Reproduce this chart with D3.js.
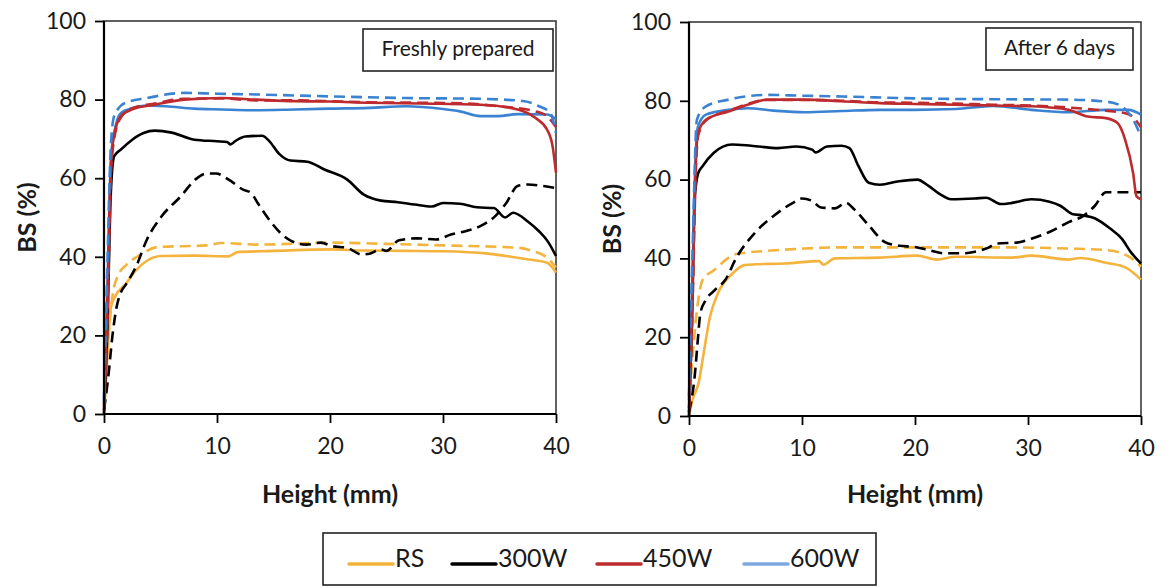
<!DOCTYPE html>
<html>
<head>
<meta charset="utf-8">
<script src="https://cdn.jsdelivr.net/npm/d3@7"></script>
<style>
  html, body { margin: 0; padding: 0; background: #fff; }
  svg { display: block; }
  text { font-family: Lato, "Open Sans", sans-serif; fill: #1a1a1a; }
</style>
</head>
<body>
<svg id="chart" width="1172" height="588"></svg>
<script>
// Backscattering (BS, %) profiles along sample height (mm)
const yTicks = [0, 20, 40, 60, 80, 100];
const xTicks = [0, 10, 20, 30, 40];
const seriesNames = ["RS", "300W", "450W", "600W"];
const seriesColors = ["#F4B33C", "#000000", "#BE2B2F", "#3A83D2"];
const legendColors = ["#F4B33C", "#000000", "#BE2B2F", "#7EA9E0"];
const panelTitles = ["Freshly prepared", "After 6 days"];

// Freshly prepared — [height mm, BS %]
const freshRS = [[0,0],[0.3,15],[0.6,27],[1,30],[1.9,33],[2.8,36.5],[3.8,39],[5.1,40.2],[8,40.3],[11,40.1],[11.4,40.6],[11.8,41.2],[15,41.5],[20.2,41.9],[23,41.6],[26.7,41.5],[30,41.4],[34,40.8],[37.2,39.5],[39.2,38.5],[40,36]];
const freshRSDash = [[0,2],[0.4,20],[0.8,31],[1.2,35],[2,38],[3.2,40.5],[4.8,42.5],[9.1,42.9],[10.4,43.5],[13.6,43.1],[20.2,43.6],[25,43.3],[30,42.9],[36.6,42.3],[37.9,41.5],[39.2,39.8],[40,37.3]];
const fresh300 = [[0,0],[0.3,22],[0.6,56],[0.9,65.6],[1.5,67.3],[2.5,69.8],[3.5,71.5],[4.5,72.1],[6,71.6],[8,69.8],[10,69.4],[10.9,69.2],[11.2,68.6],[11.6,69.4],[12.5,70.6],[14,70.8],[14.6,69.5],[15.5,66.2],[16.5,64.5],[18,64.2],[19.5,62.2],[21.5,59.7],[23,55.8],[24.5,54.3],[26,53.9],[27.5,53.3],[29,52.8],[30,53.7],[31.5,53.5],[33,52.6],[34.5,52.4],[35.5,50],[36.2,51.2],[37.5,49],[38.5,46.5],[39.3,43.8],[40,40.2]];
const fresh300Dash = [[0,1],[0.4,10],[0.75,20],[1.1,27],[1.5,31],[1.9,32.8],[2.85,37.6],[3.8,44.4],[5.1,50.3],[6.8,55.4],[8.1,59.7],[9.1,61.2],[9.9,61.2],[11,59.7],[12.3,57.1],[13,56.3],[13.6,53.7],[14.6,49.5],[15.6,46.1],[16.6,44],[17.9,43.1],[19.2,43.6],[20.2,42.7],[21.5,42.3],[22.8,40.6],[23.5,40.8],[24.5,41.9],[25,41.5],[26.1,44.2],[27.7,44.7],[29.4,44.4],[30.7,45.7],[32,46.5],[33.3,47.8],[34.6,50.3],[35.6,53.7],[36.6,58],[37.5,58.4],[38.9,58],[40,57.5]];
const fresh450 = [[0,2],[0.3,28],[0.6,63],[0.9,71],[1.5,75.8],[2.5,77.5],[4.5,78.7],[7.1,80],[10.4,80.4],[13.5,80],[16.9,79.6],[20,79.5],[23.5,79.2],[28,79],[33.3,78.7],[36.6,77.5],[38.2,75.3],[39.2,72.4],[39.7,68.1],[40,61.4]];
const fresh450Dash = [[0,1],[0.3,24],[0.6,60],[0.9,70],[1.5,75.5],[2.5,77.8],[4.5,79],[7.1,80.2],[10.4,80.3],[13.5,79.8],[16.9,79.8],[20,79.6],[23.5,79.3],[28,79.2],[32,79],[34.9,78.3],[38.2,77],[39.2,75.8],[40,73]];
const fresh600 = [[0,3],[0.3,32],[0.6,64],[0.9,71.5],[1.5,76.6],[2.5,77.8],[3.8,78.5],[5.5,78.3],[8,77.7],[10.4,77.5],[13,77.3],[16.9,77.5],[20,77.7],[23.5,77.9],[26.7,78.3],[30,77.6],[31.5,77],[33.3,75.8],[34.9,75.8],[36.6,76.3],[39.2,76.2],[40,75]];
const fresh600Dash = [[0,4],[0.3,38],[0.6,68],[0.9,75.8],[1.9,79.2],[3.8,80.4],[7.1,81.7],[10,81.5],[13.6,81.3],[20.2,80.8],[26.7,80.4],[33.3,80.2],[37.2,79.6],[38.5,78.3],[39.5,76.6],[40,71.5]];

// After 6 days — [height mm, BS %]
const agedRS = [[0,0],[0.3,4],[0.85,8.4],[1.3,16],[1.86,25.2],[2.57,31.2],[3.9,36.3],[4.9,38.3],[5.9,38.5],[8.5,38.7],[11.5,39.3],[11.9,38.4],[12.9,40],[16.9,40.2],[20.2,40.7],[21.9,39.7],[23.6,40.4],[28.6,40.2],[30.3,40.7],[33.6,39.7],[34.6,40.1],[36.9,38.9],[38.7,37.6],[40,34.6]];
const agedRSDash = [[0,2],[0.4,18],[0.8,29],[1.2,34.5],[2.2,37],[4.2,41.1],[6.9,41.9],[10.2,42.5],[13.5,42.8],[20.2,42.8],[26.9,42.8],[33.6,42.5],[36.9,42.1],[38.9,40.5],[40,37.9]];
const aged300 = [[0,0],[0.25,22],[0.5,55],[0.8,61.5],[1.2,63.4],[2.2,66.8],[3.8,68.9],[5.5,68.6],[7.9,68],[9.5,68.4],[10.9,67.6],[11.2,66.9],[12.2,68.4],[13.5,68.6],[14.2,68],[15,63.4],[15.9,59.2],[16.9,58.7],[18.6,59.6],[20.2,60],[21.2,58.4],[22.2,56.3],[23.2,55],[25.3,55.2],[26.3,55.4],[27.6,53.8],[28.6,54.1],[30.3,55],[31.9,54.4],[32.9,53.3],[33.9,51.3],[34.9,50.9],[35.9,50.2],[37.3,47.5],[38.3,45],[39.1,41.6],[40,38.7]];
const aged300Dash = [[0,1],[0.5,10],[0.8,20],[1.0,26],[1.5,29.5],[2.3,32],[3.2,34.5],[4.2,40.2],[5.9,46.7],[7.5,50.8],[9.2,54.1],[10,55.2],[10.9,54.6],[11.6,53],[12.9,52.7],[13.9,54.1],[14.6,52.5],[15.9,48.4],[17.3,44.2],[18.6,43.2],[20,42.9],[21.2,42.1],[22.6,41.3],[24.2,41.3],[25.3,41.7],[26.3,42.5],[27.3,43.8],[29,44],[30.3,45],[31.9,46.7],[33.6,49.2],[34.9,50.8],[35.9,53.3],[36.9,56.8],[37.9,56.8],[40,56.8]];
const aged450 = [[0,2],[0.3,30],[0.6,64],[0.8,71.8],[1.5,75.2],[3.5,77.3],[5.2,79],[6.9,80.3],[10.2,80.3],[13.5,79.9],[16.9,79.4],[20,79.2],[23.6,79],[27,78.8],[30.3,78.6],[33.6,77.7],[35.3,76],[36.9,75.6],[37.9,74.4],[38.6,70.1],[39.3,61.7],[39.6,55.8],[40,55]];
const aged450Dash = [[0,1],[0.3,26],[0.6,62],[0.8,71],[1.5,75],[3.5,77.5],[5.2,79.2],[6.9,80.2],[10.2,80.2],[13.5,80],[16.9,79.6],[20,79.5],[23.6,79.3],[27,79],[30.3,78.8],[33.6,78.3],[35.3,77.9],[36.9,77.5],[38.9,76.6],[40,73.3]];
const aged600 = [[0,4],[0.3,35],[0.6,67],[0.8,73.5],[1.5,76.5],[3.5,77.7],[5.2,78.1],[7.5,77.5],[10.2,77.1],[13.5,77.4],[16.9,77.7],[20,77.7],[23.6,77.9],[26.9,78.7],[30.3,77.7],[33.6,77.1],[36.9,77.7],[38.9,77.7],[40,76.5]];
const aged600Dash = [[0,5],[0.3,40],[0.7,75.2],[1.5,78.6],[3.5,80.3],[6.9,81.5],[10,81.3],[13.5,81.1],[20.2,80.6],[26.9,80.4],[33.6,80.3],[36.9,79.8],[38.3,78.6],[39.3,75.2],[40,71]];

const panels = [
  { left: 104, right: 556, top: 21, bottom: 414, title: panelTitles[0], titleBox: [363, 29, 190, 42],
    series: [
      { data: freshRSDash, c: 0, dash: true }, { data: freshRS, c: 0, dash: false },
      { data: fresh300Dash, c: 1, dash: true }, { data: fresh300, c: 1, dash: false },
      { data: fresh600, c: 3, dash: false }, { data: fresh450Dash, c: 2, dash: true },
      { data: fresh450, c: 2, dash: false }, { data: fresh600Dash, c: 3, dash: true }
    ] },
  { left: 689, right: 1141, top: 22, bottom: 416, title: panelTitles[1], titleBox: [986, 28, 147, 42],
    series: [
      { data: agedRSDash, c: 0, dash: true }, { data: agedRS, c: 0, dash: false },
      { data: aged300Dash, c: 1, dash: true }, { data: aged300, c: 1, dash: false },
      { data: aged600, c: 3, dash: false }, { data: aged450Dash, c: 2, dash: true },
      { data: aged450, c: 2, dash: false }, { data: aged600Dash, c: 3, dash: true }
    ] }
];

const svg = d3.select("#chart");
svg.append("rect").attr("width", 1172).attr("height", 588).attr("fill", "#fff");

panels.forEach(p => {
  const x = d3.scaleLinear().domain([0, 40]).range([p.left, p.right]);
  const y = d3.scaleLinear().domain([0, 100]).range([p.bottom, p.top]);
  const g = svg.append("g");

  // outer frame (top and right edges)
  g.append("rect")
    .attr("x", p.left).attr("y", p.top)
    .attr("width", p.right - p.left).attr("height", p.bottom - p.top)
    .attr("fill", "none").attr("stroke", "#3a3a3a").attr("stroke-width", 1.6);

  // title box
  const [bx, by, bw, bh] = p.titleBox;
  g.append("rect").attr("x", bx).attr("y", by).attr("width", bw).attr("height", bh)
    .attr("fill", "#fff").attr("stroke", "#222").attr("stroke-width", 1.6);
  g.append("text").attr("x", bx + bw / 2).attr("y", by + bh / 2 + 1)
    .attr("text-anchor", "middle").attr("dominant-baseline", "middle")
    .attr("font-size", 21).text(p.title);

  // data lines
  const line = d3.line().x(d => x(d[0])).y(d => y(d[1])).curve(d3.curveMonotoneX);
  p.series.forEach(s => {
    g.append("path").datum(s.data)
      .attr("d", line)
      .attr("fill", "none")
      .attr("stroke", seriesColors[s.c])
      .attr("stroke-width", 2.6)
      .attr("stroke-linejoin", "round")
      .attr("stroke-dasharray", s.dash ? "11,6" : null);
  });

  // axes
  const yAxis = d3.axisLeft(y).tickValues(yTicks).tickSize(9).tickPadding(9);
  const xAxis = d3.axisBottom(x).tickValues(xTicks).tickSize(9).tickPadding(15);
  const ya = g.append("g").attr("transform", `translate(${p.left},0)`).call(yAxis);
  const xa = g.append("g").attr("transform", `translate(0,${p.bottom})`).call(xAxis);
  [ya, xa].forEach(a => {
    a.select(".domain").attr("stroke", "#000").attr("stroke-width", 2.2);
    a.selectAll(".tick line").attr("stroke", "#000").attr("stroke-width", 1.8);
    a.selectAll(".tick text").attr("font-size", 23).attr("fill", "#222")
      .attr("font-family", "Lato, 'Open Sans', sans-serif");
  });
  ya.select(".domain").attr("d", `M0,${p.top}V${p.bottom}`);
  xa.select(".domain").attr("d", `M${p.left},0H${p.right}`);

  // axis titles
  g.append("text")
    .attr("transform", `translate(${p.left - 74},${(p.top + p.bottom) / 2}) rotate(-90)`)
    .attr("text-anchor", "middle").attr("dominant-baseline", "middle")
    .attr("font-size", 25).attr("font-weight", "bold").text("BS (%)");
  g.append("text")
    .attr("x", (p.left + p.right) / 2).attr("y", 503)
    .attr("text-anchor", "middle")
    .attr("font-size", 25).attr("font-weight", "bold").text("Height (mm)");
});

// legend
const lg = svg.append("g");
lg.append("rect").attr("x", 323).attr("y", 533).attr("width", 553).attr("height", 52)
  .attr("fill", "#fff").attr("stroke", "#222").attr("stroke-width", 1.6);
const legendX = [349, 452, 597, 744];
seriesNames.forEach((n, i) => {
  lg.append("line").attr("x1", legendX[i]).attr("x2", legendX[i] + 44)
    .attr("y1", 564).attr("y2", 564)
    .attr("stroke", legendColors[i]).attr("stroke-width", 3.5).attr("stroke-linecap", "round");
  lg.append("text").attr("x", legendX[i] + 46).attr("y", 561)
    .attr("dominant-baseline", "middle").attr("font-size", 25).text(n);
});
</script>
</body>
</html>
